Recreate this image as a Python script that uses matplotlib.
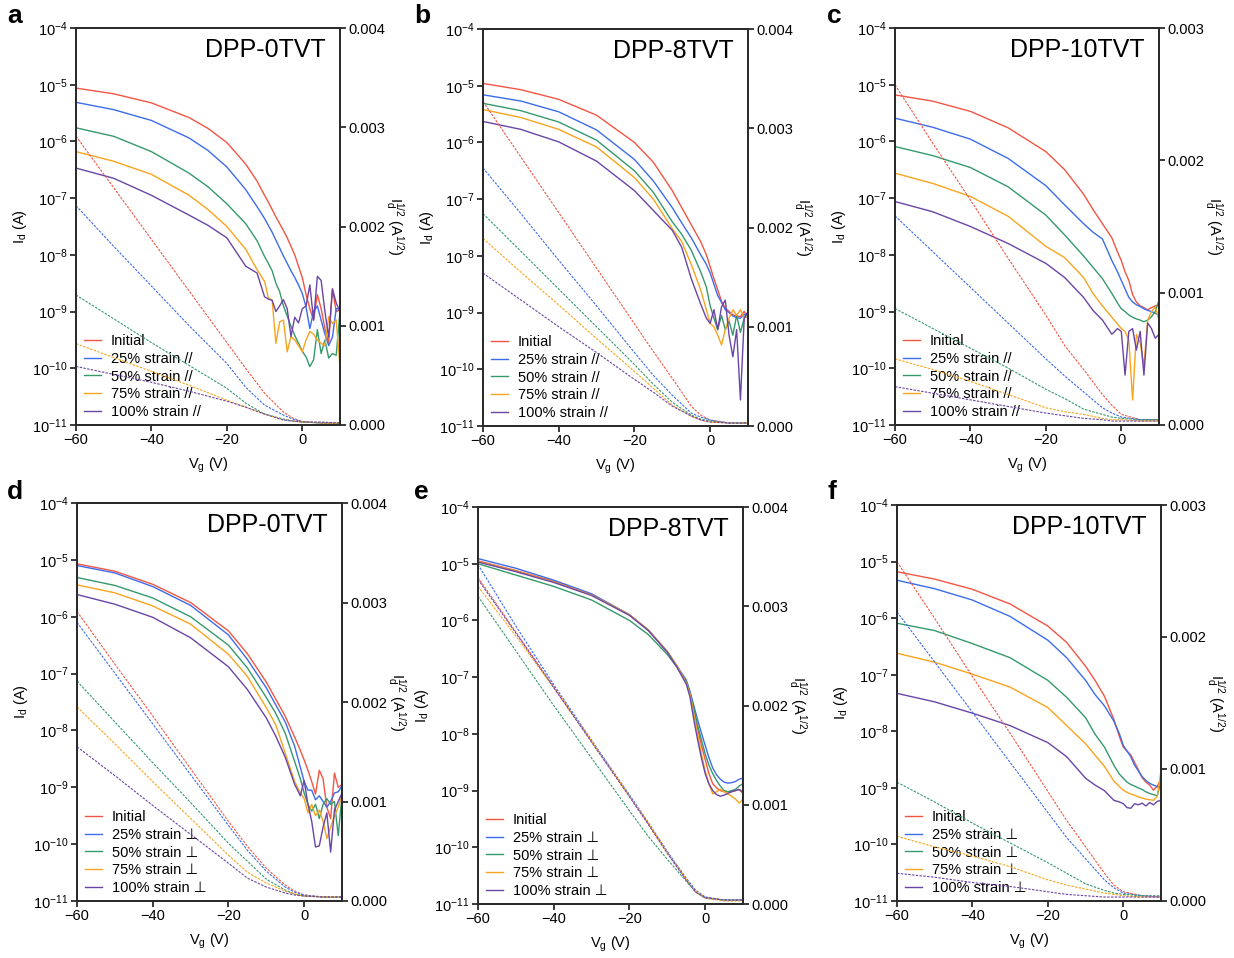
import numpy as np
import matplotlib
matplotlib.use("Agg")
import matplotlib.pyplot as plt
from matplotlib.ticker import (FixedLocator, LogFormatterMathtext, NullLocator,
                               FormatStrFormatter)

plt.rcParams["font.family"] = ["Liberation Sans", "DejaVu Sans"]
plt.rcParams["mathtext.fontset"] = "custom"
plt.rcParams["mathtext.rm"] = "Liberation Sans"
plt.rcParams["mathtext.it"] = "Liberation Sans"
plt.rcParams["mathtext.default"] = "regular"

# ---------------------------------------------------------------------------
# Transfer curves (solid): log10(Id / A) versus gate voltage Vg (V)
# ---------------------------------------------------------------------------
vg_a = [-60, -50, -40, -30, -25, -20, -15, -12, -10, -9, -8, -7, -6, -5, -4,
        -3, -2, -1, 0, 1, 2, 3, 4, 5, 6, 7, 8, 9, 10]
a_initial = [-5.06, -5.16, -5.32, -5.58, -5.77, -6.02, -6.40, -6.70, -6.95, -7.07,
             -7.20, -7.33, -7.45, -7.57, -7.70, -7.85, -8.00, -8.20, -8.40, -8.70,
             -8.95, -9.15, -8.70, -8.95, -9.30, -9.55, -8.60, -9.00, -8.97]
a_s25 = [-5.31, -5.44, -5.63, -5.94, -6.16, -6.45, -6.85, -7.15, -7.36, -7.48,
         -7.60, -7.74, -7.88, -8.02, -8.15, -8.28, -8.40, -8.53, -8.68, -8.92,
         -9.30, -9.00, -8.90, -9.15, -9.40, -9.60, -9.45, -8.95, -8.95]
a_s50 = [-5.76, -5.91, -6.18, -6.56, -6.80, -7.10, -7.45, -7.75, -8.03, -8.15,
         -8.28, -8.50, -8.65, -8.90, -9.08, -9.26, -9.42, -9.56, -9.70, -9.80,
         -9.97, -9.85, -9.32, -9.74, -9.50, -9.82, -9.74, -9.77, -9.00]
a_s75 = [-6.18, -6.35, -6.58, -6.95, -7.20, -7.50, -7.90, -8.26, -8.47, -8.76,
         -8.80, -9.56, -9.18, -9.15, -9.71, -9.44, -9.50, -9.60, -9.71, -9.50,
         -9.35, -9.40, -9.50, -9.56, -9.60, -9.09, -9.21, -9.15, -9.97]
a_s100 = [-6.47, -6.65, -6.95, -7.30, -7.48, -7.70, -8.20, -8.32, -8.74, -8.78,
          -8.80, -9.00, -8.90, -8.79, -8.95, -9.44, -9.10, -9.20, -8.95, -8.90,
          -8.53, -9.15, -8.38, -8.45, -9.00, -9.45, -8.60, -8.85, -9.00]

vg_b = [-60, -50, -40, -30, -20, -15, -10, -7.5, -5, -2.5, -1, 0, 1, 2, 3, 4,
        5, 6, 7, 8, 9, 10]
b_initial = [-4.96, -5.07, -5.24, -5.52, -6.00, -6.35, -6.85, -7.15, -7.45, -7.75,
             -7.98, -8.19, -8.40, -8.60, -8.80, -8.92, -8.98, -9.04, -9.06, -9.07,
             -8.98, -9.10]
b_s25 = [-5.16, -5.27, -5.46, -5.78, -6.30, -6.68, -7.15, -7.42, -7.68, -7.98,
         -8.15, -8.30, -8.50, -8.70, -8.82, -8.95, -9.00, -9.06, -9.09, -9.10,
         -9.03, -9.10]
b_s50 = [-5.31, -5.44, -5.64, -5.96, -6.50, -6.88, -7.40, -7.62, -7.90, -8.28,
         -8.55, -8.88, -9.10, -9.30, -9.05, -9.30, -9.15, -9.40, -9.05, -9.35,
         -9.10, -9.00]
b_s75 = [-5.42, -5.56, -5.77, -6.08, -6.62, -7.00, -7.52, -7.75, -8.15, -8.60,
         -8.95, -9.19, -9.25, -9.40, -9.57, -9.30, -9.10, -8.95, -9.05, -8.95,
         -9.10, -9.05]
b_s100 = [-5.63, -5.77, -5.99, -6.33, -6.85, -7.20, -7.55, -7.85, -8.40, -8.85,
          -9.10, -9.19, -8.95, -9.30, -8.90, -8.78, -9.40, -9.78, -9.30, -10.54,
          -9.10, -8.98]

vg_c = [-60, -50, -40, -30, -20, -15, -10, -7.5, -5, -2.5, -1, 0, 1, 2, 3, 4,
        5, 6, 7, 8, 9, 10]
c_initial = [-5.18, -5.29, -5.47, -5.76, -6.18, -6.50, -6.93, -7.20, -7.45, -7.70,
             -7.95, -8.10, -8.30, -8.45, -8.70, -8.83, -8.90, -8.93, -8.97, -8.93,
             -8.90, -8.88]
c_s25 = [-5.59, -5.75, -5.96, -6.30, -6.78, -7.12, -7.45, -7.60, -7.72, -8.10,
         -8.30, -8.45, -8.60, -8.75, -8.83, -8.88, -8.91, -8.95, -8.98, -9.00,
         -9.03, -9.06]
c_s50 = [-6.09, -6.25, -6.46, -6.80, -7.30, -7.65, -8.02, -8.22, -8.42, -8.68,
         -8.85, -8.95, -9.00, -9.06, -9.10, -9.13, -9.15, -9.18, -9.15, -9.09,
         -9.00, -8.80]
c_s75 = [-6.56, -6.74, -6.97, -7.32, -7.85, -8.05, -8.40, -8.68, -8.90, -9.10,
         -9.22, -9.30, -9.35, -9.50, -10.56, -9.40, -9.55, -9.96, -9.15, -9.00,
         -8.92, -9.15]
c_s100 = [-7.06, -7.24, -7.50, -7.80, -8.15, -8.40, -8.75, -8.98, -9.15, -9.40,
          -9.30, -9.35, -10.12, -9.35, -9.30, -9.68, -9.35, -10.12, -9.20, -9.30,
          -9.47, -9.40]

vg_d = [-60, -50, -40, -30, -20, -15, -10, -7.5, -5, -2.5, -1, 0, 1, 2, 3, 4,
        5, 6, 7, 8, 9, 10]
d_initial = [-5.07, -5.20, -5.43, -5.75, -6.25, -6.65, -7.15, -7.45, -7.75, -8.12,
             -8.35, -8.52, -8.70, -8.90, -9.12, -8.70, -8.85, -9.35, -9.55, -8.75,
             -9.00, -8.95]
d_s25 = [-5.10, -5.23, -5.47, -5.80, -6.32, -6.75, -7.25, -7.55, -7.85, -8.28,
         -8.65, -8.90, -9.05, -9.05, -9.22, -9.15, -9.25, -9.35, -9.25, -9.10,
         -9.08, -8.97]
d_s50 = [-5.31, -5.45, -5.67, -6.00, -6.50, -6.90, -7.42, -7.70, -8.05, -8.55,
         -8.85, -9.10, -9.30, -9.42, -9.30, -9.55, -9.30, -9.20, -9.30, -9.25,
         -9.85, -9.15]
d_s75 = [-5.44, -5.58, -5.81, -6.13, -6.66, -7.05, -7.60, -7.90, -8.40, -8.90,
         -9.10, -9.20, -9.45, -9.30, -9.50, -9.40, -9.60, -9.90, -9.70, -9.50,
         -9.35, -9.14]
d_s100 = [-5.61, -5.78, -6.01, -6.37, -6.88, -7.28, -7.78, -8.10, -8.47, -8.95,
          -9.15, -8.88, -9.30, -9.60, -10.05, -10.03, -9.70, -9.45, -10.14, -9.40,
          -9.25, -9.10]

vg_e = [-60, -50, -40, -30, -20, -15, -10, -7.5, -5, -4, -3, -2, -1, 0, 1, 2,
        3, 4, 5, 6, 7, 8, 9, 10]
e_initial = [-4.95, -5.12, -5.31, -5.54, -5.90, -6.17, -6.55, -6.80, -7.07, -7.30,
             -7.60, -7.90, -8.20, -8.45, -8.70, -8.88, -8.95, -9.00, -9.02, -9.02,
             -9.02, -9.00, -8.98, -9.05]
e_s25 = [-4.91, -5.08, -5.29, -5.53, -5.90, -6.17, -6.55, -6.80, -7.05, -7.25,
         -7.50, -7.75, -7.98, -8.20, -8.42, -8.60, -8.72, -8.80, -8.85, -8.87,
         -8.86, -8.84, -8.80, -8.78]
e_s50 = [-5.00, -5.20, -5.40, -5.64, -6.00, -6.25, -6.60, -6.82, -7.08, -7.28,
         -7.55, -7.85, -8.10, -8.35, -8.55, -8.70, -8.82, -8.92, -9.00, -9.02,
         -9.00, -8.98, -8.92, -8.88]
e_s75 = [-4.96, -5.13, -5.32, -5.55, -5.90, -6.17, -6.55, -6.80, -7.10, -7.30,
         -7.65, -8.00, -8.35, -8.65, -8.88, -9.06, -9.02, -8.98, -9.02, -9.06,
         -9.10, -9.15, -9.22, -9.15]
e_s100 = [-4.97, -5.14, -5.33, -5.56, -5.91, -6.18, -6.56, -6.82, -7.12, -7.35,
          -7.75, -8.10, -8.42, -8.70, -8.88, -9.00, -9.07, -9.10, -9.08, -9.05,
          -9.02, -9.00, -8.98, -9.03]

vg_f = [-60, -50, -40, -30, -20, -15, -10, -7.5, -5, -2.5, -1, 0, 1, 2, 3, 4,
        5, 6, 7, 8, 9, 10]
f_initial = [-5.18, -5.31, -5.49, -5.75, -6.14, -6.43, -6.85, -7.10, -7.38, -7.79,
             -8.10, -8.28, -8.35, -8.42, -8.55, -8.68, -8.82, -8.90, -8.95, -9.04,
             -8.97, -8.85]
f_s25 = [-5.33, -5.48, -5.68, -5.97, -6.39, -6.70, -7.10, -7.35, -7.55, -7.82,
         -8.05, -8.25, -8.35, -8.45, -8.60, -8.70, -8.80, -8.87, -8.92, -8.95,
         -8.98, -9.00]
f_s50 = [-6.09, -6.22, -6.45, -6.70, -7.10, -7.40, -7.76, -8.05, -8.28, -8.60,
         -8.76, -8.83, -8.90, -8.94, -8.97, -9.00, -9.03, -9.07, -9.10, -9.12,
         -9.14, -8.88]
f_s75 = [-6.62, -6.78, -6.99, -7.22, -7.58, -7.90, -8.22, -8.42, -8.62, -8.88,
         -8.98, -9.04, -9.08, -9.11, -9.13, -9.16, -9.18, -9.20, -9.21, -9.22,
         -9.15, -8.70]
f_s100 = [-7.33, -7.48, -7.68, -7.90, -8.20, -8.45, -8.83, -8.95, -9.05, -9.22,
          -9.25, -9.28, -9.35, -9.36, -9.28, -9.30, -9.27, -9.32, -9.26, -9.30,
          -9.24, -9.22]

# ---------------------------------------------------------------------------
# Square-root plots (dashed): Id^1/2 in A^1/2 versus Vg (V)
# ---------------------------------------------------------------------------
vg_sq = [-60, -50, -40, -30, -20, -15, -10, -5, -2.5, 0, 5, 10]

sq_a_initial = [0.00291, 0.00239, 0.00187, 0.00135, 0.00083, 0.00057, 0.00032,
                0.00013, 0.00007, 0.000035, 0.00002, 0.000015]
sq_a_s25 = [0.00221, 0.00180, 0.00140, 0.00100, 0.00062, 0.00038, 0.00020,
            0.00010, 0.00006, 0.000034, 0.00002, 0.00002]
sq_a_s50 = [0.00131, 0.00107, 0.00083, 0.00060, 0.00037, 0.00022, 0.00011,
            0.00006, 0.00004, 0.00003, 0.00002, 0.000015]
sq_a_s75 = [0.00082, 0.00068, 0.00054, 0.00040, 0.00025, 0.00018, 0.00011,
            0.00005, 0.00004, 0.00003, 0.00002, 0.000015]
sq_a_s100 = [0.00059, 0.00051, 0.00043, 0.00034, 0.00024, 0.00018, 0.00011,
             0.00005, 0.00004, 0.00003, 0.00003, 0.00002]

sq_b_initial = [0.00327, 0.00271, 0.00215, 0.00159, 0.00103, 0.00075, 0.00048,
                0.00020, 0.00011, 0.00006, 0.00003, 0.00003]
sq_b_s25 = [0.00260, 0.00214, 0.00167, 0.00121, 0.00074, 0.00051, 0.00031,
            0.00013, 0.00009, 0.00006, 0.00003, 0.00003]
sq_b_s50 = [0.00214, 0.00176, 0.00138, 0.00100, 0.00062, 0.00042, 0.00024,
            0.00011, 0.00007, 0.00005, 0.00003, 0.00003]
sq_b_s75 = [0.00189, 0.00155, 0.00122, 0.00088, 0.00055, 0.00038, 0.00021,
            0.00010, 0.00006, 0.00004, 0.00003, 0.00003]
sq_b_s100 = [0.00154, 0.00127, 0.00100, 0.00074, 0.00047, 0.00034, 0.00020,
             0.00010, 0.00006, 0.00004, 0.00003, 0.00003]

sq_c_initial = [0.00257, 0.00213, 0.00170, 0.00126, 0.00083, 0.00060, 0.00042,
                0.00023, 0.00015, 0.00008, 0.00004, 0.00004]
sq_c_s25 = [0.00158, 0.00131, 0.00104, 0.00077, 0.00050, 0.00037, 0.00025,
            0.00013, 0.00009, 0.00006, 0.00004, 0.00004]
sq_c_s50 = [0.00088, 0.00073, 0.00058, 0.00043, 0.00027, 0.00020, 0.00012,
            0.00008, 0.00006, 0.00005, 0.00004, 0.00004]
sq_c_s75 = [0.00050, 0.00042, 0.00033, 0.00023, 0.00013, 0.00010, 0.00008,
            0.00005, 0.00004, 0.00004, 0.00003, 0.00003]
sq_c_s100 = [0.00029, 0.00024, 0.00019, 0.00014, 0.00009, 0.00007, 0.00005,
             0.00004, 0.00003, 0.00003, 0.00003, 0.00003]

sq_d_initial = [0.00291, 0.00238, 0.00186, 0.00133, 0.00080, 0.00055, 0.00033,
                0.00016, 0.00010, 0.00006, 0.00004, 0.00004]
sq_d_s25 = [0.00280, 0.00229, 0.00178, 0.00127, 0.00076, 0.00051, 0.00030,
            0.00014, 0.00009, 0.00006, 0.00004, 0.00004]
sq_d_s50 = [0.00221, 0.00180, 0.00139, 0.00099, 0.00058, 0.00040, 0.00022,
            0.00011, 0.00007, 0.00005, 0.00004, 0.00004]
sq_d_s75 = [0.00195, 0.00158, 0.00120, 0.00083, 0.00046, 0.00029, 0.00018,
            0.00010, 0.00007, 0.00005, 0.00004, 0.00004]
sq_d_s100 = [0.00155, 0.00126, 0.00096, 0.00067, 0.00038, 0.00023, 0.00014,
             0.00008, 0.00006, 0.00005, 0.00004, 0.00004]

sq_e_initial = [0.00329, 0.00274, 0.00219, 0.00164, 0.00109, 0.00081, 0.00052,
                0.00025, 0.00013, 0.00007, 0.00004, 0.00004]
sq_e_s25 = [0.00342, 0.00280, 0.00221, 0.00165, 0.00110, 0.00082, 0.00053,
            0.00026, 0.00014, 0.00007, 0.00004, 0.00004]
sq_e_s50 = [0.00310, 0.00255, 0.00200, 0.00147, 0.00094, 0.00068, 0.00045,
            0.00023, 0.00012, 0.00006, 0.00004, 0.00004]
sq_e_s75 = [0.00320, 0.00270, 0.00218, 0.00164, 0.00109, 0.00081, 0.00052,
            0.00025, 0.00013, 0.00006, 0.00003, 0.00003]
sq_e_s100 = [0.00327, 0.00273, 0.00218, 0.00163, 0.00108, 0.00080, 0.00051,
             0.00024, 0.00012, 0.00006, 0.00004, 0.00004]

sq_f_initial = [0.00257, 0.00214, 0.00170, 0.00127, 0.00083, 0.00061, 0.00041,
                0.00021, 0.00012, 0.00007, 0.00004, 0.00003]
sq_f_s25 = [0.00219, 0.00181, 0.00143, 0.00105, 0.00067, 0.00048, 0.00032,
            0.00016, 0.00010, 0.00006, 0.00004, 0.00003]
sq_f_s50 = [0.00090, 0.00075, 0.00059, 0.00044, 0.00029, 0.00021, 0.00013,
            0.00008, 0.00006, 0.00005, 0.00004, 0.00004]
sq_f_s75 = [0.00049, 0.00041, 0.00034, 0.00026, 0.00016, 0.00012, 0.00009,
            0.00006, 0.00005, 0.00004, 0.00003, 0.00003]
sq_f_s100 = [0.00021, 0.00018, 0.00014, 0.00011, 0.00007, 0.00005, 0.00004,
             0.00003, 0.00003, 0.00003, 0.00003, 0.00003]

labels_par = ["Initial", "25% strain //", "50% strain //", "75% strain //",
              "100% strain //"]
labels_perp = ["Initial", "25% strain \u22a5", "50% strain \u22a5",
               "75% strain \u22a5", "100% strain \u22a5"]
colors = ["#F25544", "#3D6CEB", "#35996C", "#F8A41E", "#6A45A5"]

x_ticks = [-60, -40, -20, 0]

W, H = 1234, 958
fig = plt.figure(figsize=(W / 100, H / 100), dpi=100)


def px_rect(x0, y0, x1, y1):
    return [x0 / W, 1 - y1 / H, (x1 - x0) / W, (y1 - y0) / H]


def draw_panel(rect, letter, title, vg, curves, sq_curves, labels, rmax,
               letter_xy):
    ax = fig.add_axes(px_rect(*rect))
    ax2 = ax.twinx()
    for logid, sq, col, lab in zip(curves, sq_curves, colors, labels):
        ax.plot(vg, 10.0 ** np.asarray(logid), color=col, lw=1.0, label=lab)
        ax2.plot(vg_sq, sq, color=col, lw=0.8, ls=(0, (2.2, 1.2)))

    ax.set_yscale("log")
    ax.set_ylim(1e-11, 1e-4)
    ax.set_xlim(-60, 10)
    ax.yaxis.set_major_locator(FixedLocator([10.0 ** k for k in range(-11, -3)]))
    ax.yaxis.set_major_formatter(LogFormatterMathtext())
    ax.yaxis.set_minor_locator(NullLocator())
    ax.xaxis.set_major_locator(FixedLocator(x_ticks))
    ax2.set_ylim(0, rmax)
    ax2.yaxis.set_major_locator(FixedLocator(np.arange(0, rmax + 1e-9, 0.001)))
    ax2.yaxis.set_major_formatter(FormatStrFormatter("%.3f"))

    for a in (ax, ax2):
        for s in a.spines.values():
            s.set_linewidth(1.4)
            s.set_color("#2b2b2b")
        a.tick_params(direction="out", length=4.5, width=1.3, labelsize=10.5,
                      colors="#2b2b2b", labelcolor="black", pad=1.5)

    ax.set_xlabel(r"V$_\mathregular{g}$ (V)", fontsize=10.5, labelpad=6)
    ax.set_ylabel(r"I$_\mathregular{d}$ (A)", fontsize=10.5, labelpad=2.5)
    ax2.set_ylabel(r"I$_\mathregular{d}^\mathregular{1/2}$ (A$^\mathregular{1/2}$)",
                   fontsize=10.5, rotation=270, labelpad=15)

    ax.text(0.945, 0.975, title, transform=ax.transAxes, ha="right", va="top",
            fontsize=18)
    ax.legend(loc="lower left", frameon=False, fontsize=10.5,
              handlelength=1.1, handletextpad=0.7, labelspacing=0.26,
              borderaxespad=0.0, bbox_to_anchor=(0.01, 0.0))
    fig.text(letter_xy[0] / W, 1 - letter_xy[1] / H, letter, fontsize=19,
             fontweight="bold", ha="left", va="center")
    return ax, ax2


draw_panel((76, 28, 340, 425), "a", "DPP-0TVT", vg_a,
           [a_initial, a_s25, a_s50, a_s75, a_s100],
           [sq_a_initial, sq_a_s25, sq_a_s50, sq_a_s75, sq_a_s100],
           labels_par, 0.004, (7, 16))
draw_panel((483, 29, 748, 426), "b", "DPP-8TVT", vg_b,
           [b_initial, b_s25, b_s50, b_s75, b_s100],
           [sq_b_initial, sq_b_s25, sq_b_s50, sq_b_s75, sq_b_s100],
           labels_par, 0.004, (414, 16))
draw_panel((895, 28, 1159, 425), "c", "DPP-10TVT", vg_c,
           [c_initial, c_s25, c_s50, c_s75, c_s100],
           [sq_c_initial, sq_c_s25, sq_c_s50, sq_c_s75, sq_c_s100],
           labels_par, 0.003, (827, 16))
draw_panel((77, 503, 342, 901), "d", "DPP-0TVT", vg_d,
           [d_initial, d_s25, d_s50, d_s75, d_s100],
           [sq_d_initial, sq_d_s25, sq_d_s50, sq_d_s75, sq_d_s100],
           labels_perp, 0.004, (7, 492))
draw_panel((478, 507, 743, 904), "e", "DPP-8TVT", vg_e,
           [e_initial, e_s25, e_s50, e_s75, e_s100],
           [sq_e_initial, sq_e_s25, sq_e_s50, sq_e_s75, sq_e_s100],
           labels_perp, 0.004, (414, 492))
draw_panel((897, 505, 1161, 901), "f", "DPP-10TVT", vg_f,
           [f_initial, f_s25, f_s50, f_s75, f_s100],
           [sq_f_initial, sq_f_s25, sq_f_s50, sq_f_s75, sq_f_s100],
           labels_perp, 0.003, (827, 492))

fig.savefig("out.png", dpi=100, facecolor="white")
